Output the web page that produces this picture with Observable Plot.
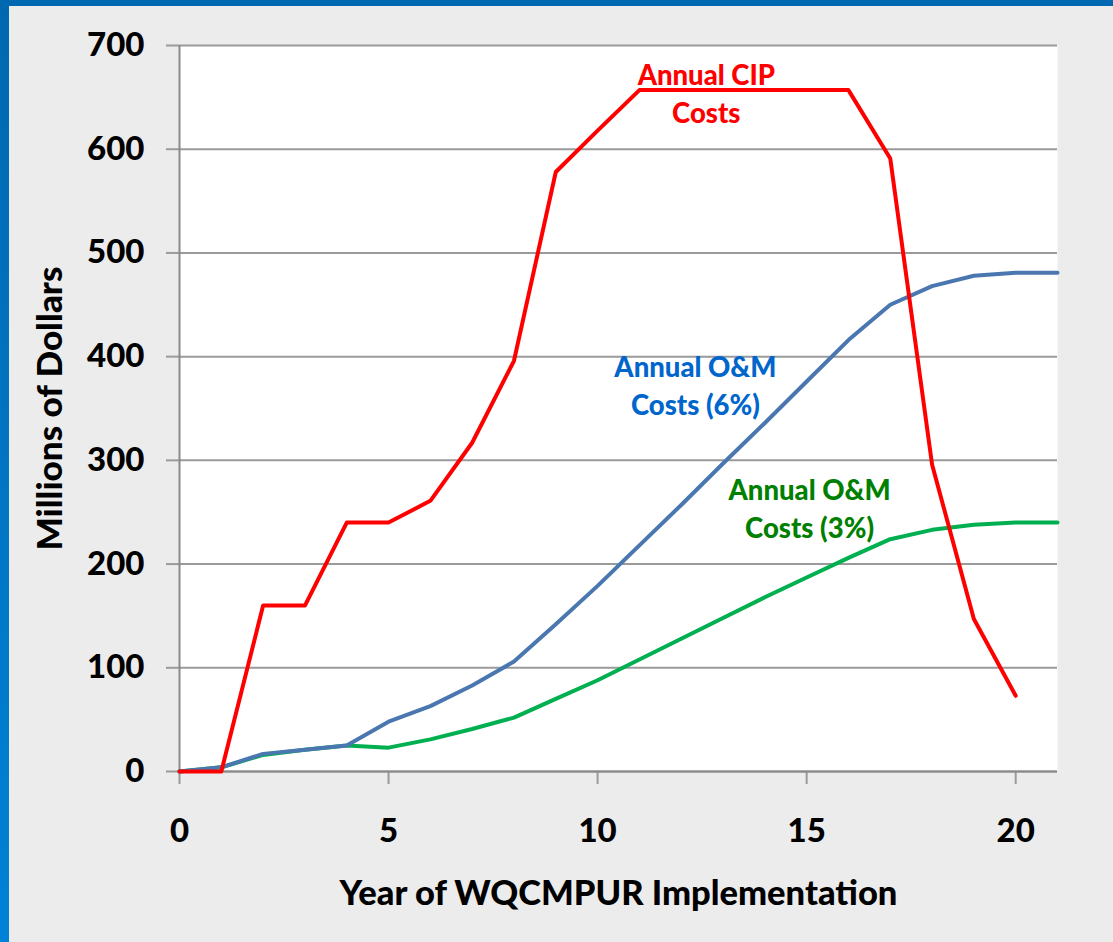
<!DOCTYPE html>
<html>
<head>
<meta charset="utf-8">
<script src="https://cdn.jsdelivr.net/npm/d3@7"></script>
<script src="https://cdn.jsdelivr.net/npm/@observablehq/plot@0.6"></script>
<style>
  html, body { margin: 0; padding: 0; background: #ececec; }
  #wrap { position: relative; width: 1113px; height: 942px; overflow: hidden; }
  #topbar { position: absolute; left: 0; top: 0; width: 1113px; height: 6px; background: #0068b0; }
  #leftbar { position: absolute; left: 0; top: 0; width: 9px; height: 942px; background: linear-gradient(#0068b0, #0082d6); }
</style>
</head>
<body>
<div id="wrap"><div id="chart"></div><div id="topbar"></div><div id="leftbar"></div></div>
<script>
const years = [0,1,2,3,4,5,6,7,8,9,10,11,12,13,14,15,16,17,18,19,20,21];
const cipCosts = [0,0,160,160,240,240,261,317,396,578,618,657,657,657,657,657,657,591,296,147,73];
const om6Costs = [0,4,17,21,25,48,63,83,106,142,179,218,257,297,336,376,416,450,468,478,481,481];
const om3Costs = [0,4,16,21,25,23,31,41,52,70,88,108,128,148,168,187,206,224,233,238,240,240];
const xTicks = [0,5,10,15,20];
const yTicks = [0,100,200,300,400,500,600,700];
const xTitle = "Year of WQCMPUR Implementation";
const yTitle = "Millions of Dollars";
const seriesNames = ["Annual CIP\nCosts", "Annual O&M\nCosts (6%)", "Annual O&M\nCosts (3%)"];
const seriesColors = ["#ff0000", "#4a77b0", "#00b050"];
const labelColors = ["#ff0000", "#0066cc", "#008000"];
const labelX = [12.6, 12.34, 15.07];
const labelY = [655.5, 374, 255];

const cip = cipCosts.map((v, i) => ({year: years[i], value: v}));
const om6 = om6Costs.map((v, i) => ({year: years[i], value: v}));
const om3 = om3Costs.map((v, i) => ({year: years[i], value: v}));
const labels = seriesNames.map((t, i) => ({text: t, x: labelX[i], y: labelY[i], color: labelColors[i]}));

const chart = Plot.plot({
  width: 1113,
  height: 942,
  marginLeft: 179,
  marginRight: 56,
  marginTop: 45,
  marginBottom: 171,
  style: {background: "#ececec", fontFamily: "Lato, sans-serif", fontWeight: "900", color: "black"},
  x: {domain: [0, 21]},
  y: {domain: [0, 700]},
  marks: [
    Plot.frame({fill: "white", stroke: null}),
    Plot.gridY(yTicks, {stroke: "#9a9a9a", strokeOpacity: 1, strokeWidth: 2}),
    Plot.axisY(yTicks, {tickSize: 13, tickPadding: 22, fontSize: 33, fontWeight: "900", stroke: "#9a9a9a", strokeWidth: 2, fill: "black", label: null, tickFormat: d => String(d)}),
    Plot.axisX(xTicks, {tickSize: 13, tickPadding: 34, fontSize: 33, fontWeight: "900", stroke: "#9a9a9a", strokeWidth: 2, fill: "black", label: null, tickFormat: d => String(d)}),
    Plot.ruleX([0], {stroke: "#8a8a8a", strokeWidth: 2}),
    Plot.ruleY([0], {stroke: "#8a8a8a", strokeWidth: 2}),
    Plot.line(om3, {x: "year", y: "value", stroke: seriesColors[2], strokeWidth: 4}),
    Plot.line(om6, {x: "year", y: "value", stroke: seriesColors[1], strokeWidth: 4}),
    Plot.line(cip, {x: "year", y: "value", stroke: seriesColors[0], strokeWidth: 4}),
    Plot.text(labels, {x: "x", y: "y", text: "text", fill: "color", fontSize: 27.5, fontWeight: "900", lineHeight: 1.38}),
    Plot.text([xTitle], {frameAnchor: "bottom", lineAnchor: "middle", dy: 122, fontSize: 34.5, fontWeight: "900", fill: "black"}),
    Plot.text([yTitle], {frameAnchor: "left", textAnchor: "middle", dx: -129, rotate: -90, fontSize: 35, fontWeight: "900", fill: "black"})
  ]
});
document.getElementById("chart").appendChild(chart);
</script>
</body>
</html>
